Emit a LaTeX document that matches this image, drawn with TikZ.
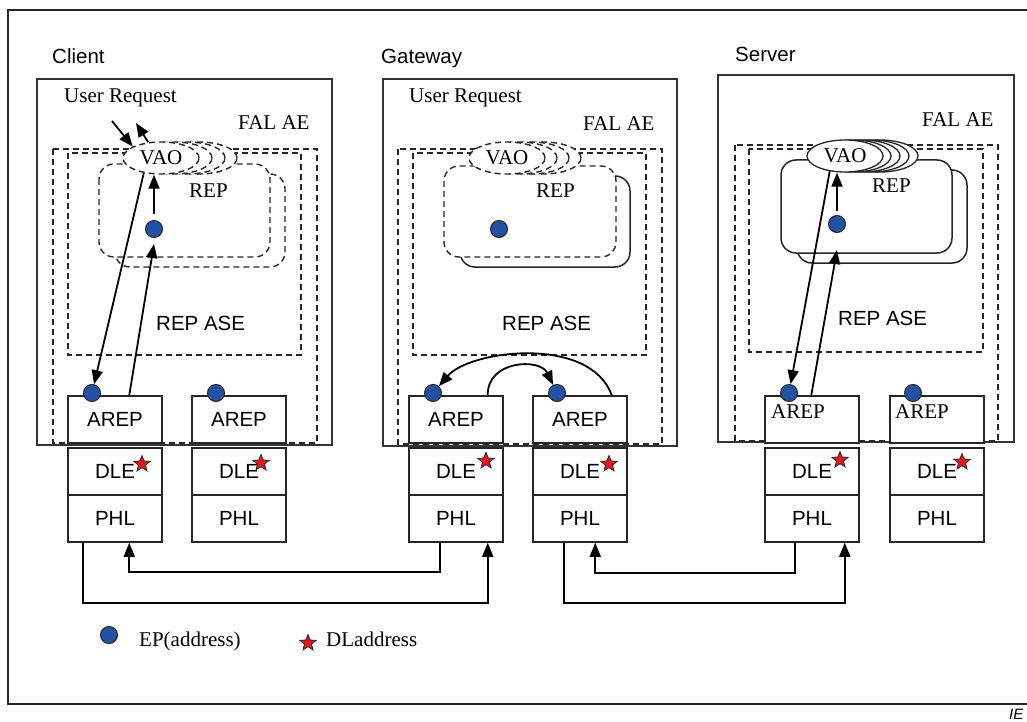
\documentclass[tikz,border=0pt]{standalone}
\usepackage{fontspec}
\setmainfont{Liberation Serif}
\setsansfont{Liberation Sans}
\usetikzlibrary{shapes.geometric,arrows.meta,calc}
\definecolor{epblue}{RGB}{35,82,162}
\definecolor{dlred}{RGB}{230,22,32}
\tikzset{
  sanslbl/.style={font=\sffamily\fontsize{20.5}{24}\selectfont, inner sep=0pt},
  seriflbl/.style={font=\rmfamily\fontsize{21}{24}\selectfont, inner sep=0pt},
  devbox/.style={draw=black!80, line width=1.6pt},
  dashbox/.style={draw=black!85, line width=1.4pt, dash pattern=on 6pt off 4pt},
  solidrep/.style={draw=black!85, line width=1.5pt},
  laybox/.style={draw=black!85, line width=1.5pt, fill=white, minimum width=94pt, minimum height=47pt,
                 inner sep=0pt, font=\sffamily\fontsize{20.5}{24}\selectfont},
  epdot/.style={circle, draw=black!85, line width=1pt, fill=epblue, minimum size=17pt, inner sep=0pt},
  dlstar/.style={star, star points=5, star point ratio=2.3, draw=black!85, line width=0.8pt,
                 fill=dlred, minimum size=17pt, inner sep=0pt},
  vao/.style={ellipse, fill=white, minimum width=76pt, minimum height=32pt, inner sep=0pt,
              font=\rmfamily\fontsize{21}{24}\selectfont},
  arr/.style={line width=1.8pt, -{Triangle[length=14pt,width=11pt]}},
  wire/.style={line width=1.6pt, -{Triangle[length=14pt,width=11pt]}},
}
\begin{document}
\begin{tikzpicture}[x=1pt,y=-1pt]
\useasboundingbox (0,0) rectangle (1027,722);
\fill[white] (0,0) rectangle (1027,722);
% outer frame (open towards the right edge)
\draw[draw=black!85, line width=1.3pt] (1040,10) -- (8,10) -- (8,704) -- (1040,704);

% station titles
\node[sanslbl, anchor=base west] (tclient) at (52,64) {Client};
\node[sanslbl, anchor=base west] (tgate) at (381,64) {Gateway};
\node[sanslbl, anchor=base west] (tserver) at (735,62) {Server};

% station boxes
\draw[devbox] (37,79) rectangle (332,445);
\draw[devbox] (383,79) rectangle (677,446);
\draw[devbox] (718,75) rectangle (1014,442);

% FAL AE and REP ASE dashed regions
\draw[dashbox] (53,149) rectangle (317,443);
\draw[dashbox] (68,153) rectangle (301,355);
\draw[dashbox] (398,149) rectangle (662,444);
\draw[dashbox] (413,153) rectangle (646,355);
\draw[dashbox] (735,145) rectangle (998,441);
\draw[dashbox] (749,149) rectangle (983,352);

% REP instances
\draw[dashbox, rounded corners=15pt, fill=white] (115,174) rectangle (285,267);
\draw[dashbox, rounded corners=15pt, fill=white] (99,164) rectangle (270,257);
\draw[solidrep, rounded corners=15pt, fill=white] (460,176) rectangle (630,267);
\draw[dashbox, rounded corners=15pt, fill=white] (444,166) rectangle (616,257);
\draw[solidrep, rounded corners=15pt, fill=white] (797,170) rectangle (967,263);
\draw[solidrep, rounded corners=15pt, fill=white] (781,160) rectangle (952,253);

% VAO stacks
\foreach \dx in {38,26,13} \node[vao, dashbox] (cvb\dx) at (161+\dx,158) {};
\node[vao, dashbox] (cvao) at (161,158) {VAO};
\foreach \dx in {36,24,12} \node[vao, dashbox] (gvb\dx) at (507+\dx,158) {};
\node[vao, dashbox] (gvao) at (507,158) {VAO};
\foreach \dx in {35,26,17,8} \node[vao, draw=black!85, line width=1.3pt] (svb\dx) at (845+\dx,156) {};
\node[vao, draw=black!85, line width=1.3pt] (svao) at (845,156) {VAO};

% labels
\node[seriflbl, anchor=base west] (cur) at (64,103) {User Request};
\node[seriflbl, anchor=base west] (gur) at (409,103) {User Request};
\node[seriflbl, anchor=base west] (cfal) at (238,130) {FAL AE};
\node[seriflbl, anchor=base west] (gfal) at (583,131) {FAL AE};
\node[seriflbl, anchor=base west] (sfal) at (922,127) {FAL AE};
\node[seriflbl, anchor=base west] (crep) at (189,197) {REP};
\node[seriflbl, anchor=base west] (grep) at (536,197) {REP};
\node[seriflbl, anchor=base west] (srep) at (872,193) {REP};
\node[sanslbl, anchor=base west] (case) at (156,330) {REP ASE};
\node[sanslbl, anchor=base west] (gase) at (502,330) {REP ASE};
\node[sanslbl, anchor=base west] (sase) at (838,325) {REP ASE};

% protocol stacks: AREP / DLE / PHL
\node[laybox] (cA1) at (115,419.5) {AREP};
\node[laybox] (cD1) at (115,471.5) {DLE};
\node[laybox] (cP1) at (115,518.5) {PHL};
\node[laybox] (cA2) at (239,419.5) {AREP};
\node[laybox] (cD2) at (239,471.5) {DLE};
\node[laybox] (cP2) at (239,518.5) {PHL};
\node[laybox] (gA1) at (456,419.5) {AREP};
\node[laybox] (gD1) at (456,471.5) {DLE};
\node[laybox] (gP1) at (456,518.5) {PHL};
\node[laybox] (gA2) at (580,419.5) {AREP};
\node[laybox] (gD2) at (580,471.5) {DLE};
\node[laybox] (gP2) at (580,518.5) {PHL};
\node[laybox] (sA1) at (812,419.5) {};
\node[laybox] (sD1) at (812,471.5) {DLE};
\node[laybox] (sP1) at (812,518.5) {PHL};
\node[laybox] (sA2) at (937,419.5) {};
\node[laybox] (sD2) at (937,471.5) {DLE};
\node[laybox] (sP2) at (937,518.5) {PHL};
\node[seriflbl, anchor=base west] (sA1t) at (771,418) {AREP};
\node[seriflbl, anchor=base west] (sA2t) at (895,418) {AREP};

% DL addresses
\node[dlstar] (cS1) at (142,464) {};
\node[dlstar] (cS2) at (261,463) {};
\node[dlstar] (gS1) at (486,461) {};
\node[dlstar] (gS2) at (609,464) {};
\node[dlstar] (sS1) at (840,460) {};
\node[dlstar] (sS2) at (962,462) {};

% end points
\node[epdot] (cA1dot) at (92,393) {};
\node[epdot] (cA2dot) at (216,393) {};
\node[epdot] (gA1dot) at (433,393) {};
\node[epdot] (gA2dot) at (557,393) {};
\node[epdot] (sA1dot) at (789,393) {};
\node[epdot] (sA2dot) at (913,393) {};
\node[epdot] (cRdot) at (154,229) {};
\node[epdot] (gRdot) at (499,229) {};
\node[epdot] (sRdot) at (837,224) {};

% client flows
\coordinate (curIn) at (112,121);
\coordinate (curOut) at (136,123);
\draw[arr] (curIn) -- (cvao.158);
\draw[arr] (cvao.129) -- (curOut);
\draw[arr] ($(cRdot.north)+(0,-6)$) -- (cRdot |- cvao.south);
\draw[arr] (cvao.221) -- (cA1dot);
\draw[arr] ($(cA1.north west)+(62,0)$) -- ($(cRdot.south)+(0,6)$);

% gateway relay
\draw[arr] ($(gA2.north east)+(-16,0)$) .. controls (590,335) and (470,350) .. (gA1dot);
\draw[arr] ($(gA1.north east)+(-16,0)$) .. controls (487,360) and (540,358) .. (gA2dot);

% server flows
\draw[arr] ($(sRdot.north)+(0,-4)$) -- (sRdot |- svao.south);
\draw[arr] (svao.225) -- (sA1dot);
\draw[arr] ($(sA1.north west)+(47,0)$) -- ($(sRdot.south)+(0,17)$);

% physical links
\draw[wire] ($(cP1.south west)+(16,0)$) -- ++(0,60) -| ($(gP1.south east)+(-16,0)$);
\draw[wire] ($(gP1.south west)+(32,0)$) -- ++(0,29) -| ($(cP1.south west)+(62,0)$);
\draw[wire] ($(gP2.south west)+(32,0)$) -- ++(0,60) -| ($(sP1.south east)+(-15,0)$);
\draw[wire] ($(sP1.south west)+(31,0)$) -- ++(0,30) -| ($(gP2.south west)+(63,0)$);

% legend
\node[epdot] (legdot) at (109,635) {};
\node[seriflbl, anchor=base west] (legep) at (139,646) {EP(address)};
\node[dlstar] (legstar) at (308,643) {};
\node[seriflbl, anchor=base west] (legdl) at (326,646) {DLaddress};

\node[font=\sffamily\itshape\fontsize{15}{17}\selectfont, inner sep=0pt, anchor=base west] (fig) at (1009,719) {IE};
\end{tikzpicture}
\end{document}
